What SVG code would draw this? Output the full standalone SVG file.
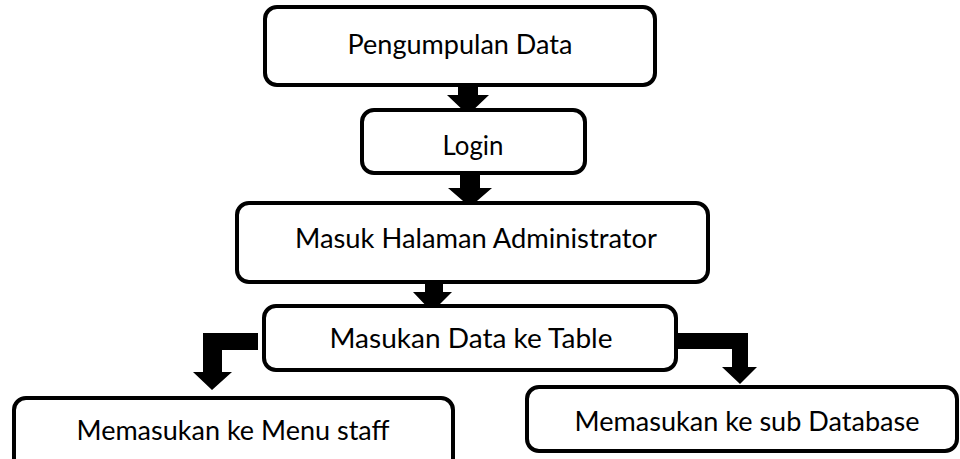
<svg xmlns="http://www.w3.org/2000/svg" width="960" height="459" viewBox="0 0 960 459">
<style>
.box{fill:#fff;stroke:#000;stroke-width:4}
.lbl{font-family:Lato,"Open Sans","Liberation Sans",sans-serif;font-size:27px;fill:#000;text-anchor:middle}
.arr{fill:#000;stroke:none}
</style>
<rect width="960" height="459" fill="#fff"/>
<g id="connectors">
<polygon class="arr" points="458,85 478,85 478,95 489,95 468,115 447,95 458,95"/>
<polygon class="arr" points="460,173 480,173 480,188 492,188 470,207 448,188 460,188"/>
<polygon class="arr" points="425,282 443,282 443,292 452,292 432,312 413,292 425,292"/>
<polygon class="arr" points="258,333 258,350 222,350 222,372 232,372 212,390 193,372 203,372 203,333"/>
<polygon class="arr" points="677,333 748,333 748,367 757,367 740,384 722,367 732,367 732,349 677,349"/>
</g>
<g id="n1">
<rect class="box" x="265" y="7" width="390" height="78" rx="12"/>
<text class="lbl" x="460" y="54" textLength="225" lengthAdjust="spacingAndGlyphs">Pengumpulan Data</text>
</g>
<g id="n2">
<rect class="box" x="362" y="110" width="223" height="63" rx="12"/>
<text class="lbl" x="473" y="155" textLength="61" lengthAdjust="spacingAndGlyphs">Login</text>
</g>
<g id="n3">
<rect class="box" x="237" y="203" width="471" height="79" rx="12"/>
<text class="lbl" x="476" y="248" textLength="362" lengthAdjust="spacingAndGlyphs">Masuk Halaman Administrator</text>
</g>
<g id="n4">
<rect class="box" x="264" y="306" width="412" height="64" rx="12"/>
<text class="lbl" x="471" y="348" textLength="283" lengthAdjust="spacingAndGlyphs">Masukan Data ke Table</text>
</g>
<g id="n5">
<rect class="box" x="14" y="398" width="439" height="80" rx="12"/>
<text class="lbl" x="233" y="440" textLength="313" lengthAdjust="spacingAndGlyphs">Memasukan ke Menu staff</text>
</g>
<g id="n6">
<rect class="box" x="527" y="387" width="430" height="64" rx="12"/>
<text class="lbl" x="747" y="431" textLength="345" lengthAdjust="spacingAndGlyphs">Memasukan ke sub Database</text>
</g>
</svg>
